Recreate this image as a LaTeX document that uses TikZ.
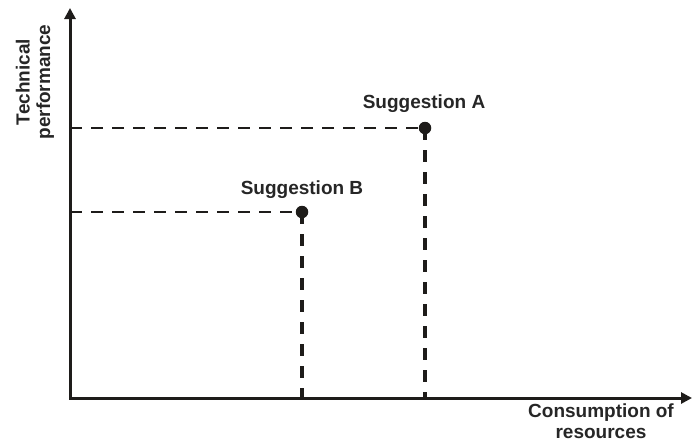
\documentclass[tikz,border=0pt]{standalone}
\usepackage{fontspec}
\setmainfont{Liberation Sans}
\usetikzlibrary{arrows.meta}
\definecolor{ink}{HTML}{1E1C1A}
\definecolor{txt}{HTML}{262626}
\begin{document}
\begin{tikzpicture}[x=1pt,y=-1pt,
  axis/.style={ink, line width=3pt, -{Triangle[length=11pt,width=11pt]}},
  guide/.style={ink, line width=2.5pt, dash pattern=on 12pt off 9pt},
  vguide/.style={guide, line width=3.1pt, dash pattern=on 12pt off 10pt},
  dot/.style={circle, fill=ink, inner sep=0pt, minimum size=12.5pt},
  lbl/.style={font=\fontsize{19}{20.5}\selectfont\bfseries, text=txt, align=center, inner sep=0pt}]
\useasboundingbox (0,0) rectangle (693,445);

% axes
\coordinate (O) at (70,398);
\coordinate (ytip) at (70,8);
\coordinate (xtip) at (692,398);
\draw[axis, line cap=rect] (O) -- (ytip);
\draw[axis, line cap=rect] (O) -- (xtip);

% the two suggestions
\node[dot] (A) at (425,128) {};
\node[dot] (B) at (302,212) {};

% guide lines to the axes
\draw[guide] (A.center -| O) -- (A.center);
\draw[vguide] (A.center) -- (A.center |- O);
\draw[guide] (B.center -| O) -- (B.center);
\draw[vguide] (B.center) -- (B.center |- O);

% labels
\node[lbl, anchor=base] (la) at (424,108) {Suggestion A};
\node[lbl, anchor=base] (lb) at (302,194) {Suggestion B};
\node[lbl, rotate=90] (ylab) at (35,82) {Technical\\performance};
\node[lbl] (xlab) at (601,421) {Consumption of\\resources};
\end{tikzpicture}
\end{document}
